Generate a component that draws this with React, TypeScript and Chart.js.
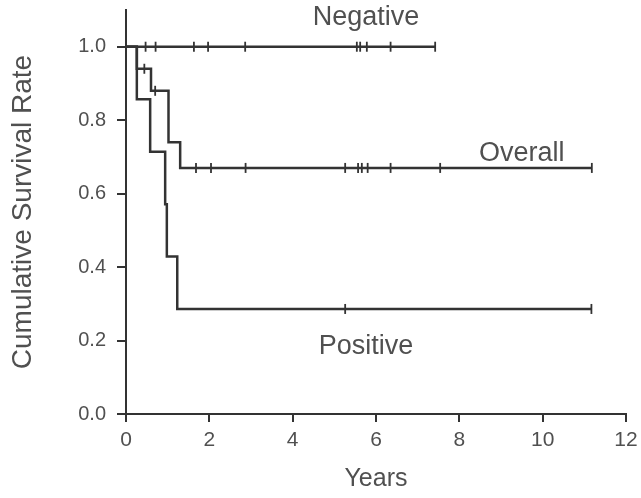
import React, { useEffect, useRef } from "react";
import { Chart, registerables } from "chart.js";

Chart.register(...registerables);

// ---- Data (years, cumulative survival) ----
const posTimes = [0, 0.26, 0.58, 0.94, 0.98, 1.23, 11.17];
const posSurv = [1.0, 0.857, 0.714, 0.571, 0.429, 0.286, 0.286];
const posCensor = [5.26, 11.17];

const allTimes = [0, 0.26, 0.6, 1.02, 1.3, 11.18];
const allSurv = [1.0, 0.94, 0.88, 0.74, 0.67, 0.67];
const allCensor = [0.44, 0.7, 1.68, 2.04, 2.87, 5.26, 5.57, 5.66, 5.8, 6.35, 7.54, 11.18];

const negTimes = [0, 7.42];
const negSurv = [1.0, 1.0];
const negCensor = [0.47, 0.71, 1.63, 1.97, 2.86, 5.54, 5.62, 5.78, 6.35, 7.42];

const xTicks = [0, 2, 4, 6, 8, 10, 12];
const yTicks = [0, 0.2, 0.4, 0.6, 0.8, 1.0];

const curveLabels = ["Negative", "Overall", "Positive"];
const labelX = [5.76, 9.5, 5.76];
const labelY = [1.08, 0.71, 0.183];

const INK = "#333333";
const TEXT = "#505050";
const FONT = "'Liberation Sans', Arial, sans-serif";

function survAt(times: number[], surv: number[], t: number) {
  let v = surv[0];
  for (let i = 0; i < times.length; i++) if (times[i] <= t) v = surv[i];
  return v;
}

function curve(times: number[], surv: number[]) {
  return times.map((t, i) => ({ x: t, y: surv[i] }));
}

function censors(times: number[], surv: number[], c: number[]) {
  return c.map((t) => ({ x: t, y: survAt(times, surv, t) }));
}

const labelPlugin = {
  id: "curveLabels",
  afterDatasetsDraw(chart: any) {
    const { ctx, scales } = chart;
    ctx.save();
    ctx.fillStyle = TEXT;
    ctx.font = `27px ${FONT}`;
    ctx.textAlign = "center";
    ctx.textBaseline = "middle";
    curveLabels.forEach((s, i) => {
      ctx.fillText(s, scales.x.getPixelForValue(labelX[i]), scales.y.getPixelForValue(labelY[i]));
    });
    ctx.restore();
  },
};

export default function App() {
  const ref = useRef<HTMLCanvasElement>(null);
  useEffect(() => {
    if (!ref.current) return;
    const lineDs = (times: number[], surv: number[]) => ({
      type: "line" as const,
      data: curve(times, surv),
      borderColor: INK,
      borderWidth: 2.5,
      stepped: "before" as const,
      pointRadius: 0,
      fill: false,
    });
    const censorDs = (times: number[], surv: number[], c: number[]) => ({
      type: "scatter" as const,
      data: censors(times, surv, c),
      pointStyle: "line" as const,
      rotation: 90,
      pointRadius: 5,
      borderColor: INK,
      borderWidth: 1.8,
      showLine: false,
    });
    const chart = new Chart(ref.current, {
      type: "line",
      data: {
        datasets: [
          lineDs(negTimes, negSurv),
          lineDs(allTimes, allSurv),
          lineDs(posTimes, posSurv),
          censorDs(negTimes, negSurv, negCensor),
          censorDs(allTimes, allSurv, allCensor),
          censorDs(posTimes, posSurv, posCensor),
        ] as any,
      },
      options: {
        animation: false,
        responsive: false,
        layout: { padding: { top: 10, right: 15, left: 0, bottom: 0 } },
        plugins: { legend: { display: false }, tooltip: { enabled: false } },
        scales: {
          x: {
            type: "linear",
            min: 0,
            max: 12,
            afterBuildTicks: (s: any) => {
              s.ticks = xTicks.map((v) => ({ value: v }));
            },
            afterFit: (s: any) => {
              s.height = 84;
              s.paddingLeft = 0;
              s.paddingRight = 0;
            },
            grid: { drawOnChartArea: false, drawTicks: true, tickLength: 8, color: INK, lineWidth: 2 },
            border: { display: true, color: INK, width: 2 },
            ticks: { color: TEXT, font: { size: 21, family: FONT }, padding: 6, maxRotation: 0 },
            title: { display: true, text: "Years", color: TEXT, font: { size: 25, family: FONT }, padding: { top: 0, bottom: 4 } },
          },
          y: {
            type: "linear",
            min: 0,
            max: 1.1,
            afterBuildTicks: (s: any) => {
              s.ticks = yTicks.map((v) => ({ value: v }));
            },
            afterFit: (s: any) => {
              s.width = 126;
              s.paddingTop = 0;
              s.paddingBottom = 0;
            },
            grid: { drawOnChartArea: false, drawTicks: true, tickLength: 9, color: INK, lineWidth: 2 },
            border: { display: true, color: INK, width: 2 },
            ticks: {
              color: TEXT,
              font: { size: 20, family: FONT },
              padding: 11,
              callback: (v: any) => Number(v).toFixed(1),
            },
            title: {
              display: true,
              text: "Cumulative Survival Rate",
              color: TEXT,
              font: { size: 28, family: FONT },
              padding: { top: 6, bottom: 0 },
            },
          },
        },
      },
      plugins: [labelPlugin],
    });
    return () => chart.destroy();
  }, []);
  return (
    <div style={{ position: "fixed", left: 0, top: 0, width: 641, height: 498, background: "#fff" }}>
      <canvas ref={ref} width={641} height={498} style={{ width: 641, height: 498, display: "block" }} />
    </div>
  );
}
